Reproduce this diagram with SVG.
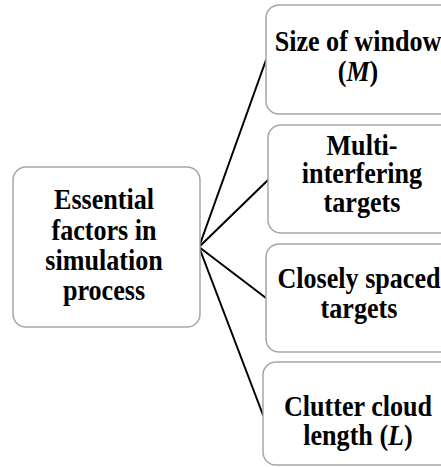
<svg xmlns="http://www.w3.org/2000/svg" width="441" height="467" viewBox="0 0 441 467">
  <style>
    .box { fill: #ffffff; stroke: #a6a6a6; stroke-width: 1.5; }
    .label { font-family: "Liberation Serif", "Times New Roman", serif; font-weight: bold; font-size: 30px; fill: #000000; text-anchor: middle; }
    .it { font-style: italic; }
    .link { stroke: #000000; stroke-width: 2; fill: none; stroke-linecap: round; }
  </style>
  <rect width="441" height="467" fill="#ffffff"/>

  <!-- connectors fanning out from the root node -->
  <g id="connectors">
    <line class="link" x1="199" y1="247" x2="266" y2="60"/>
    <line class="link" x1="199" y1="247" x2="268" y2="180"/>
    <line class="link" x1="199" y1="247" x2="266" y2="298"/>
    <line class="link" x1="199" y1="247" x2="263" y2="415"/>
  </g>

  <!-- root node -->
  <g id="node-essential-factors">
    <rect class="box" x="13" y="167" width="187" height="160" rx="13"/>
    <g transform="translate(104,0) scale(0.87,1)">
      <text class="label" x="0" y="209">Essential</text>
      <text class="label" x="0" y="240">factors in</text>
      <text class="label" x="0" y="270">simulation</text>
      <text class="label" x="0" y="300">process</text>
    </g>
  </g>

  <g id="node-window-size">
    <rect class="box" x="266" y="5" width="190" height="109" rx="13"/>
    <g transform="translate(358,0) scale(0.87,1)">
      <text class="label" x="0" y="51.5">Size of window</text>
      <text class="label" x="0" y="81.5">(<tspan class="it">M</tspan>)</text>
    </g>
  </g>

  <g id="node-multi-interfering">
    <rect class="box" x="268" y="125" width="190" height="108" rx="13"/>
    <g transform="translate(362,0) scale(0.87,1)">
      <text class="label" x="0" y="155">Multi-</text>
      <text class="label" x="0" y="183.5">interfering</text>
      <text class="label" x="0" y="212">targets</text>
    </g>
  </g>

  <g id="node-closely-spaced">
    <rect class="box" x="266" y="244" width="190" height="108" rx="13"/>
    <g transform="translate(359,0) scale(0.87,1)">
      <text class="label" x="0" y="288">Closely spaced</text>
      <text class="label" x="0" y="318">targets</text>
    </g>
  </g>

  <g id="node-clutter-length">
    <rect class="box" x="263" y="362" width="190" height="103" rx="13"/>
    <g transform="translate(358,0) scale(0.87,1)">
      <text class="label" x="0" y="416.5">Clutter cloud</text>
      <text class="label" x="0" y="445">length (<tspan class="it">L</tspan>)</text>
    </g>
  </g>
</svg>
